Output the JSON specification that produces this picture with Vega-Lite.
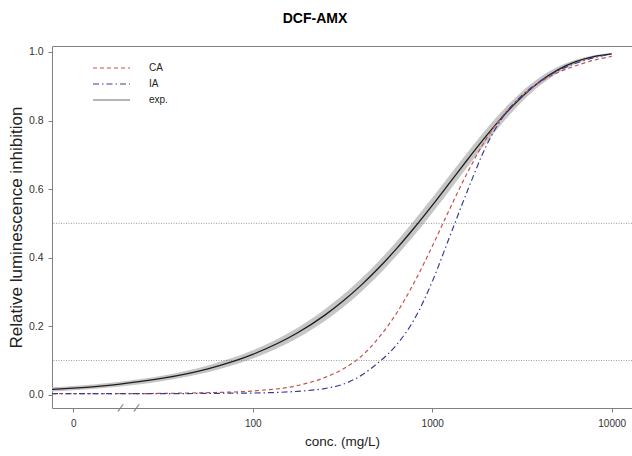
{
  "$schema": "https://vega.github.io/schema/vega-lite/v6.json",
  "width": 580,
  "height": 362,
  "autosize": {"type": "none"},
  "padding": {"left": 52, "top": 46, "right": 0, "bottom": 48},
  "background": "white",
  "config": {"view": {"stroke": null}, "font": "Liberation Sans"},
  "title": {"text": "DCF-AMX", "anchor": "middle", "fontSize": 14, "fontWeight": "bold", "font": "Liberation Sans", "color": "#000000", "offset": 9, "dx": -27, "baseline": "alphabetic"},
  "datasets": {
    "curves": [
      {"series": "exp.", "conc": 7.61, "y": 0.0155},
      {"series": "exp.", "conc": 10, "y": 0.0193},
      {"series": "exp.", "conc": 17.78, "y": 0.0305},
      {"series": "exp.", "conc": 31.62, "y": 0.0482},
      {"series": "exp.", "conc": 56.23, "y": 0.0756},
      {"series": "exp.", "conc": 100, "y": 0.1177},
      {"series": "exp.", "conc": 177.8, "y": 0.1807},
      {"series": "exp.", "conc": 251.2, "y": 0.2316},
      {"series": "exp.", "conc": 316.2, "y": 0.272},
      {"series": "exp.", "conc": 398.1, "y": 0.3176},
      {"series": "exp.", "conc": 501.2, "y": 0.3689},
      {"series": "exp.", "conc": 631, "y": 0.4255},
      {"series": "exp.", "conc": 794.3, "y": 0.4871},
      {"series": "exp.", "conc": 1000, "y": 0.5526},
      {"series": "exp.", "conc": 1258.9, "y": 0.6204},
      {"series": "exp.", "conc": 1584.9, "y": 0.6885},
      {"series": "exp.", "conc": 1995.3, "y": 0.7546},
      {"series": "exp.", "conc": 2511.9, "y": 0.8158},
      {"series": "exp.", "conc": 3162.3, "y": 0.8697},
      {"series": "exp.", "conc": 3981.1, "y": 0.9141},
      {"series": "exp.", "conc": 5011.9, "y": 0.948},
      {"series": "exp.", "conc": 6309.6, "y": 0.9716},
      {"series": "exp.", "conc": 7943.3, "y": 0.9863},
      {"series": "exp.", "conc": 10000, "y": 0.9943},
      {"series": "CA", "conc": 7.61, "y": 0.003},
      {"series": "CA", "conc": 10, "y": 0.003},
      {"series": "CA", "conc": 17.78, "y": 0.003},
      {"series": "CA", "conc": 31.62, "y": 0.004},
      {"series": "CA", "conc": 56.23, "y": 0.006},
      {"series": "CA", "conc": 100, "y": 0.011},
      {"series": "CA", "conc": 177.8, "y": 0.027},
      {"series": "CA", "conc": 251.2, "y": 0.05},
      {"series": "CA", "conc": 316.2, "y": 0.074},
      {"series": "CA", "conc": 398.1, "y": 0.11},
      {"series": "CA", "conc": 501.2, "y": 0.165},
      {"series": "CA", "conc": 631, "y": 0.237},
      {"series": "CA", "conc": 794.3, "y": 0.328},
      {"series": "CA", "conc": 1000, "y": 0.433},
      {"series": "CA", "conc": 1258.9, "y": 0.545},
      {"series": "CA", "conc": 1584.9, "y": 0.652},
      {"series": "CA", "conc": 1995.3, "y": 0.746},
      {"series": "CA", "conc": 2511.9, "y": 0.818},
      {"series": "CA", "conc": 3162.3, "y": 0.872},
      {"series": "CA", "conc": 3981.1, "y": 0.912},
      {"series": "CA", "conc": 5011.9, "y": 0.94},
      {"series": "CA", "conc": 6309.6, "y": 0.96},
      {"series": "CA", "conc": 7943.3, "y": 0.976},
      {"series": "CA", "conc": 10000, "y": 0.987},
      {"series": "IA", "conc": 7.61, "y": 0.003},
      {"series": "IA", "conc": 10, "y": 0.003},
      {"series": "IA", "conc": 17.78, "y": 0.003},
      {"series": "IA", "conc": 31.62, "y": 0.003},
      {"series": "IA", "conc": 56.23, "y": 0.004},
      {"series": "IA", "conc": 100, "y": 0.005},
      {"series": "IA", "conc": 177.8, "y": 0.01},
      {"series": "IA", "conc": 251.2, "y": 0.018},
      {"series": "IA", "conc": 316.2, "y": 0.03},
      {"series": "IA", "conc": 398.1, "y": 0.055},
      {"series": "IA", "conc": 501.2, "y": 0.094},
      {"series": "IA", "conc": 631, "y": 0.145},
      {"series": "IA", "conc": 794.3, "y": 0.22},
      {"series": "IA", "conc": 1000, "y": 0.33},
      {"series": "IA", "conc": 1258.9, "y": 0.465},
      {"series": "IA", "conc": 1584.9, "y": 0.6},
      {"series": "IA", "conc": 1995.3, "y": 0.725},
      {"series": "IA", "conc": 2511.9, "y": 0.815},
      {"series": "IA", "conc": 3162.3, "y": 0.873},
      {"series": "IA", "conc": 3981.1, "y": 0.914},
      {"series": "IA", "conc": 5011.9, "y": 0.945},
      {"series": "IA", "conc": 6309.6, "y": 0.967},
      {"series": "IA", "conc": 7943.3, "y": 0.983},
      {"series": "IA", "conc": 10000, "y": 0.994}
    ],
    "band": [
      {"conc": 7.61, "lo": 0.0095, "hi": 0.0215},
      {"conc": 10, "lo": 0.0133, "hi": 0.0253},
      {"conc": 17.78, "lo": 0.0235, "hi": 0.0375},
      {"conc": 31.62, "lo": 0.0402, "hi": 0.0562},
      {"conc": 56.23, "lo": 0.0656, "hi": 0.0856},
      {"conc": 100, "lo": 0.1057, "hi": 0.1297},
      {"conc": 177.8, "lo": 0.1657, "hi": 0.1957},
      {"conc": 251.2, "lo": 0.2146, "hi": 0.2486},
      {"conc": 316.2, "lo": 0.254, "hi": 0.29},
      {"conc": 398.1, "lo": 0.2986, "hi": 0.3366},
      {"conc": 501.2, "lo": 0.3489, "hi": 0.3889},
      {"conc": 631, "lo": 0.4045, "hi": 0.4465},
      {"conc": 794.3, "lo": 0.4651, "hi": 0.5091},
      {"conc": 1000, "lo": 0.5306, "hi": 0.5746},
      {"conc": 1258.9, "lo": 0.5984, "hi": 0.6424},
      {"conc": 1584.9, "lo": 0.6675, "hi": 0.7095},
      {"conc": 1995.3, "lo": 0.7346, "hi": 0.7746},
      {"conc": 2511.9, "lo": 0.7978, "hi": 0.8338},
      {"conc": 3162.3, "lo": 0.8547, "hi": 0.8847},
      {"conc": 3981.1, "lo": 0.9021, "hi": 0.9261},
      {"conc": 5011.9, "lo": 0.939, "hi": 0.957},
      {"conc": 6309.6, "lo": 0.9656, "hi": 0.9776},
      {"conc": 7943.3, "lo": 0.9823, "hi": 0.9903},
      {"conc": 10000, "lo": 0.9913, "hi": 0.9973}
    ],
    "refs": [{"v": 0.1}, {"v": 0.5}],
    "breaks": [{"conc": 18.3, "t": "/"}, {"conc": 22.5, "t": "/"}]
  },
  "layer": [
    {
      "data": {"name": "band"},
      "mark": {"type": "area", "color": "#c6c6c6", "interpolate": "monotone"},
      "encoding": {
        "x": {"field": "conc", "type": "quantitative",
          "scale": {"type": "log", "domain": [7.61, 12973], "nice": false},
          "axis": {"orient": "top", "labels": false, "ticks": false, "domain": true, "domainColor": "#808080", "domainWidth": 1, "grid": false, "title": null}},
        "y": {"field": "lo", "type": "quantitative",
          "scale": {"domain": [-0.0387, 1.0175], "nice": false, "zero": false},
          "axis": {"values": [0, 0.2, 0.4, 0.6, 0.8, 1.0], "format": ".1f", "grid": false, "tickSize": 4, "tickColor": "#808080", "domainColor": "#808080", "labelFontSize": 10.5, "labelColor": "#333333", "labelPadding": 5, "title": "Relative luminescence inhibition", "titleFontSize": 17, "titleFontWeight": "normal", "titleColor": "#222222", "titlePadding": 3}},
        "y2": {"field": "hi"}
      }
    },
    {
      "data": {"name": "refs"},
      "mark": {"type": "rule", "color": "#808080", "strokeDash": [1, 1.5], "strokeWidth": 0.8},
      "encoding": {"y": {"field": "v", "type": "quantitative"}}
    },
    {
      "data": {"name": "curves"},
      "transform": [{"filter": "datum.series == 'exp.'"}],
      "mark": {"type": "line", "color": "#1e1e1e", "strokeWidth": 1.3, "interpolate": "monotone"},
      "encoding": {
        "x": {"field": "conc", "type": "quantitative",
          "axis": {"orient": "bottom", "values": [10, 100, 1000, 10000], "format": "d", "labelExpr": "datum.value == 10 ? '0' : datum.label", "grid": false, "tickSize": 4, "tickColor": "#808080", "domainColor": "#808080", "labelFontSize": 10, "labelColor": "#333333", "labelPadding": 6, "labelFlush": false, "labelOverlap": false, "title": "conc. (mg/L)", "titleFontSize": 13.5, "titleFontWeight": "normal", "titleColor": "#222222", "titlePadding": 6}},
        "y": {"field": "y", "type": "quantitative"}
      }
    },
    {
      "data": {"name": "curves"},
      "transform": [{"filter": "datum.series != 'exp.'"}],
      "mark": {"type": "line", "interpolate": "monotone"},
      "encoding": {
        "x": {"field": "conc", "type": "quantitative", "axis": null},
        "y": {"field": "y", "type": "quantitative"},
        "color": {"field": "series", "type": "nominal",
          "scale": {"domain": ["CA", "IA", "exp."], "range": ["#c4524a", "#3c3c98", "#6e6e6e"]},
          "legend": {"orient": "none", "legendX": 40, "legendY": 14, "title": null, "symbolType": "stroke", "symbolSize": 1369, "clipHeight": 16, "rowPadding": 0, "labelOffset": 18, "labelFontSize": 10, "labelColor": "#222222", "padding": 0}},
        "strokeDash": {"field": "series", "type": "nominal",
          "scale": {"domain": ["CA", "IA", "exp."], "range": [[4, 3], [6, 3, 1.5, 3], [1, 0]]},
          "legend": {"orient": "none", "legendX": 40, "legendY": 14, "title": null, "symbolType": "stroke", "symbolSize": 1369, "clipHeight": 16, "rowPadding": 0, "labelOffset": 18, "labelFontSize": 10, "labelColor": "#222222", "padding": 0}},
        "strokeWidth": {"field": "series", "type": "nominal",
          "scale": {"domain": ["CA", "IA", "exp."], "range": [1.2, 1.2, 2.2]},
          "legend": {"orient": "none", "legendX": 40, "legendY": 14, "title": null, "symbolType": "stroke", "symbolSize": 1369, "clipHeight": 16, "rowPadding": 0, "labelOffset": 18, "labelFontSize": 10, "labelColor": "#222222", "padding": 0}}
      }
    },
    {
      "data": {"name": "breaks"},
      "mark": {"type": "text", "fontSize": 12, "color": "#777777", "angle": 20, "baseline": "middle", "align": "center"},
      "encoding": {
        "x": {"field": "conc", "type": "quantitative", "axis": null},
        "y": {"datum": -0.0387},
        "text": {"field": "t"}
      }
    }
  ],
  "resolve": {"axis": {"x": "independent"}}
}
